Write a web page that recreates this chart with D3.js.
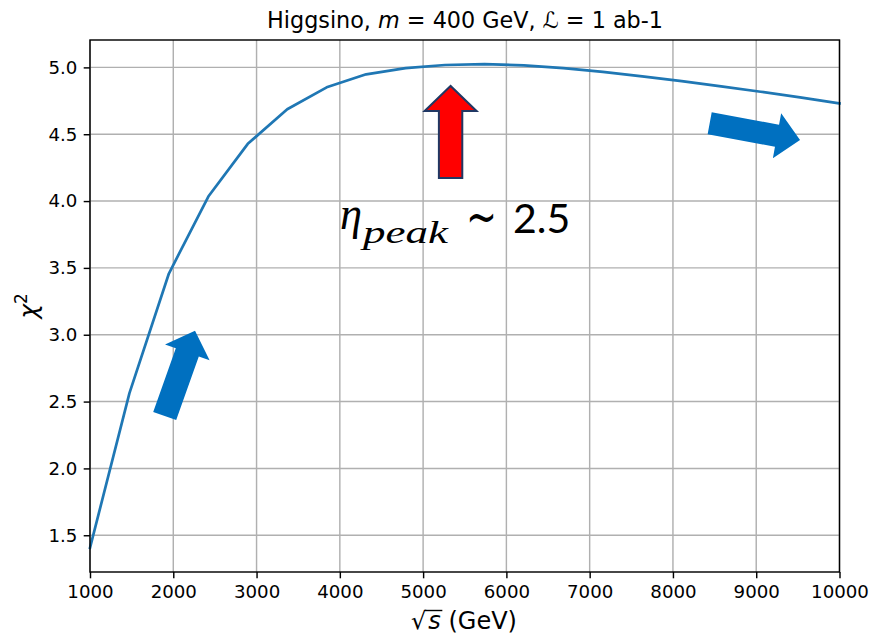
<!DOCTYPE html>
<html>
<head>
<meta charset="utf-8">
<script src="https://cdn.jsdelivr.net/npm/d3@7"></script>
<style>
  html, body { margin: 0; padding: 0; background: #fff; }
  svg { display: block; }
</style>
</head>
<body>
<svg id="chart" width="873" height="637"></svg>
<script>
// ---- data ----
const energies = [1000, 1473.7, 1947.4, 2421.1, 2894.7, 3368.4, 3842.1, 4315.8, 4789.5, 5263.2,
                  5736.8, 6210.5, 6684.2, 7157.9, 7631.6, 8105.3, 8578.9, 9052.6, 9526.3, 10000];
const chi2 = [1.406, 2.563, 3.458, 4.034, 4.428, 4.687, 4.851, 4.948, 4.995, 5.018,
              5.024, 5.015, 4.995, 4.967, 4.933, 4.897, 4.858, 4.818, 4.776, 4.731];
const xTicks = [1000, 2000, 3000, 4000, 5000, 6000, 7000, 8000, 9000, 10000];
const yTicks = [1.5, 2.0, 2.5, 3.0, 3.5, 4.0, 4.5, 5.0];
// annotation arrows: tail / tip in data coordinates
const arrowTails = [[1897, 2.392], [8441, 4.582], [5330, 4.173]];
const arrowTips  = [[2261, 3.030], [9526, 4.457], [5330, 4.861]];

// ---- layout ----
const svg = d3.select("#chart");
const L = 90, R = 839.5, T = 40, B = 572;
const x = d3.scaleLinear().domain([1000, 10000]).range([L, R]);
const [ymin, ymax] = d3.extent(chi2);
const pad = (ymax - ymin) * 0.05;
const y = d3.scaleLinear().domain([ymin - pad, ymax + pad]).range([B, T]);

const font = "'DejaVu Sans', sans-serif";

// grid
const grid = svg.append("g");
grid.selectAll(".gx").data(xTicks).join("line")
  .attr("x1", d => x(d)).attr("x2", d => x(d)).attr("y1", T).attr("y2", B)
  .attr("stroke", "#b0b0b0").attr("stroke-width", 1.44);
grid.selectAll(".gy").data(yTicks).join("line")
  .attr("y1", d => y(d)).attr("y2", d => y(d)).attr("x1", L).attr("x2", R)
  .attr("stroke", "#b0b0b0").attr("stroke-width", 1.44);

// line
svg.append("path")
  .datum(energies.map((e, i) => [e, chi2[i]]))
  .attr("fill", "none").attr("stroke", "#1f77b4").attr("stroke-width", 2.7)
  .attr("stroke-linejoin", "round").attr("stroke-linecap", "square")
  .attr("d", d3.line().x(d => x(d[0])).y(d => y(d[1])));

// frame
svg.append("rect").attr("x", L).attr("y", T).attr("width", R - L).attr("height", B - T)
  .attr("fill", "none").attr("stroke", "#000").attr("stroke-width", 1.44);

// axes
const xAxis = svg.append("g").attr("transform", `translate(0,${B})`)
  .call(d3.axisBottom(x).tickValues(xTicks).tickFormat(d3.format("d")).tickSize(6.3).tickPadding(6.3));
const yAxis = svg.append("g").attr("transform", `translate(${L},0)`)
  .call(d3.axisLeft(y).tickValues(yTicks).tickFormat(d3.format(".1f")).tickSize(6.3).tickPadding(6.3));
[xAxis, yAxis].forEach(a => {
  a.select(".domain").remove();
  a.selectAll(".tick line").attr("stroke", "#000").attr("stroke-width", 1.44);
  a.selectAll(".tick text").attr("font-family", font).attr("font-size", 18.2).attr("fill", "#000");
});

// arrows
function arrowPath(t, h, sw, hw, hl) {
  const x0 = x(t[0]), y0 = y(t[1]), x1 = x(h[0]), y1 = y(h[1]);
  const dx = x1 - x0, dy = y1 - y0, len = Math.hypot(dx, dy);
  const ux = dx / len, uy = dy / len, nx = -uy, ny = ux;
  const bx = x1 - ux * hl, by = y1 - uy * hl;
  const pts = [
    [x0 + nx * sw / 2, y0 + ny * sw / 2],
    [bx + nx * sw / 2, by + ny * sw / 2],
    [bx + nx * hw / 2, by + ny * hw / 2],
    [x1, y1],
    [bx - nx * hw / 2, by - ny * hw / 2],
    [bx - nx * sw / 2, by - ny * sw / 2],
    [x0 - nx * sw / 2, y0 - ny * sw / 2]
  ];
  return "M" + pts.map(p => p.join(",")).join("L") + "Z";
}
const arrowStyle = [
  {sw: 24.4, hw: 47.3, hl: 23, fill: "#0070c0", stroke: "none"},
  {sw: 22.4, hw: 45.6, hl: 23.4, fill: "#0070c0", stroke: "none"},
  {sw: 23.4, hw: 52, hl: 25, fill: "#ff0000", stroke: "#203864"}
];
arrowTails.forEach((t, i) => {
  const s = arrowStyle[i];
  svg.append("path").attr("d", arrowPath(t, arrowTips[i], s.sw, s.hw, s.hl))
    .attr("fill", s.fill).attr("stroke", s.stroke).attr("stroke-width", 2)
    .attr("stroke-linejoin", "miter");
});

// title
const title = svg.append("text").attr("x", 465).attr("y", 28)
  .attr("text-anchor", "middle").attr("font-family", font).attr("font-size", 22.3).attr("fill", "#000");
title.append("tspan").text("Higgsino, ");
title.append("tspan").attr("font-style", "italic").text("m");
title.append("tspan").text(" = 400 GeV, ");
title.append("tspan").text("\u2112");
title.append("tspan").text(" = 1 ab-1");

// x label
const xl = svg.append("text").attr("x", 464).attr("y", 629)
  .attr("text-anchor", "middle").attr("font-family", font).attr("font-size", 24).attr("fill", "#000");
xl.append("tspan").text("\u221A");
xl.append("tspan").attr("font-style", "italic").attr("dx", 2).text("s");
xl.append("tspan").text(" (GeV)");
{
  const e0 = xl.node().getExtentOfChar(0), e1 = xl.node().getExtentOfChar(1);
  svg.append("line").attr("x1", e0.x + e0.width - 1.5).attr("x2", e1.x + e1.width + 1.5)
    .attr("y1", e0.y + 3.5).attr("y2", e0.y + 3.5).attr("stroke", "#000").attr("stroke-width", 1.4);
}

// y label
const yl = svg.append("text").attr("transform", "translate(37,306) rotate(-90)")
  .attr("text-anchor", "middle").attr("font-family", font).attr("font-size", 25).attr("fill", "#000");
yl.append("tspan").attr("font-style", "italic").text("\u03C7");
yl.append("tspan").attr("font-size", 17).attr("dy", -10).text("2");

// annotation
const serif = "'Liberation Serif', 'DejaVu Serif', serif";
svg.append("text").attr("x", 340).attr("y", 229).attr("font-family", serif)
  .attr("font-style", "italic").attr("font-size", 46).attr("textLength", 22)
  .attr("lengthAdjust", "spacingAndGlyphs").attr("fill", "#000").text("\u03B7");
svg.append("text").attr("x", 363).attr("y", 243).attr("font-family", serif)
  .attr("font-style", "italic").attr("font-size", 31).attr("textLength", 85)
  .attr("lengthAdjust", "spacingAndGlyphs").attr("fill", "#000").text("peak");
svg.append("text").attr("x", 466).attr("y", 234).attr("font-family", "'DejaVu Sans', sans-serif")
  .attr("font-size", 52).attr("textLength", 31).attr("lengthAdjust", "spacingAndGlyphs")
  .attr("fill", "#000").text("~");
svg.append("text").attr("x", 513).attr("y", 233).attr("font-family", "Lato, sans-serif")
  .attr("font-size", 41).attr("fill", "#000").text("2.5");
</script>
</body>
</html>
